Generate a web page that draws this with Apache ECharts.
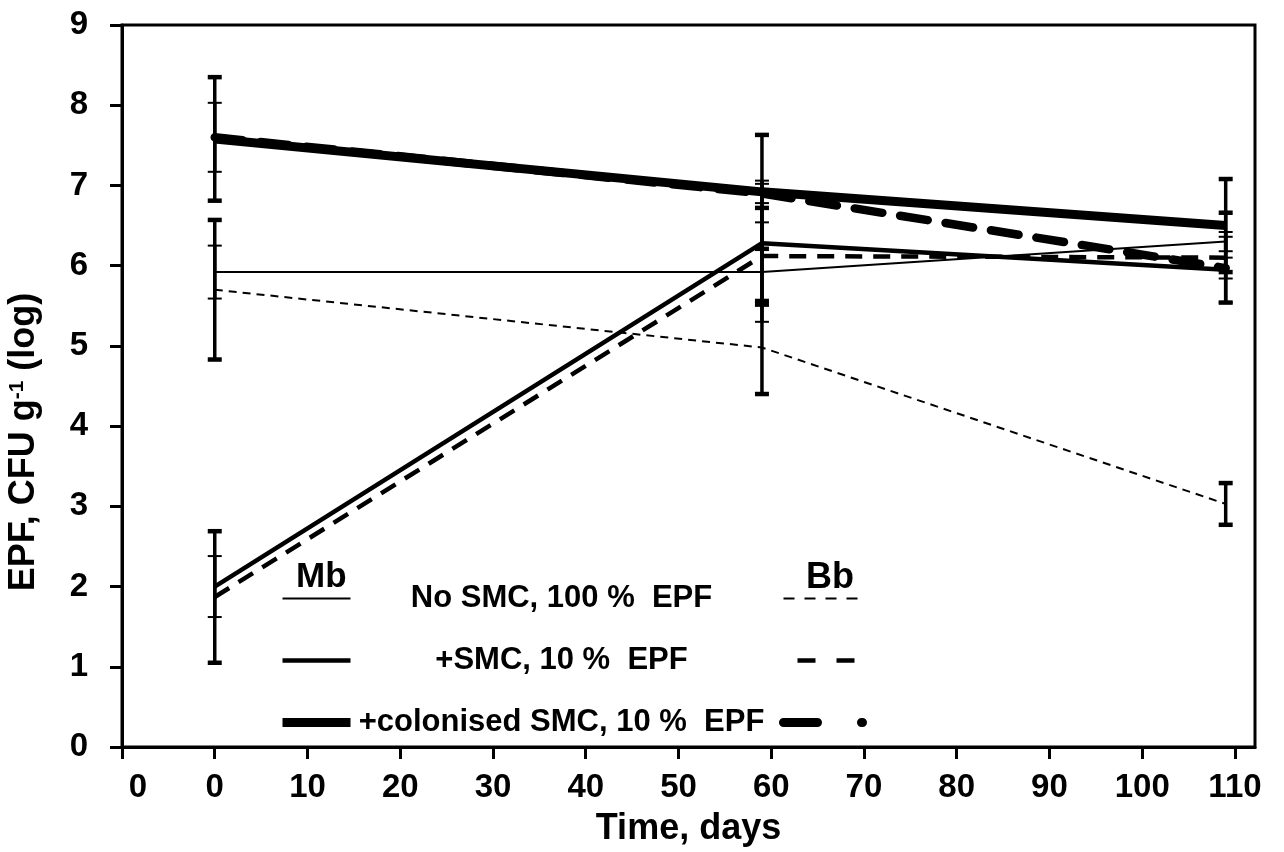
<!DOCTYPE html>
<html>
<head>
<meta charset="utf-8">
<script src="https://cdn.jsdelivr.net/npm/echarts@6/dist/echarts.min.js"></script>
<style>html,body{margin:0;padding:0;background:#fff}#c{width:1284px;height:852px}</style>
</head>
<body>
<div id="c"></div>
<script>
// ---- data ----
const days = [0, 59, 109];
const xTickValues = [-10, 0, 10, 20, 30, 40, 50, 60, 70, 80, 90, 100, 110];
const xTickLabels = ['0', '0', '10', '20', '30', '40', '50', '60', '70', '80', '90', '100', '110'];

const mbNoSmc = [5.92, 5.92, 6.30];
const mbNoSmcErr = [0.33, 0.62, 0.12];
const bbNoSmc = [5.70, 4.98, 3.03];
const bbNoSmcErr = [0.87, 0.58, 0.26];
const mbSmc = [2.00, 6.28, 5.95];
const mbSmcErr = [0.38, 0.78, 0.41];
const bbSmc = [1.87, 6.12, 6.10];
const bbSmcErr = [0.82, 0.60, 0.56];
const mbCol = [7.58, 6.92, 6.50];
const mbColErr = [0.77, 0.71, 0.58];
const bbCol = [7.60, 6.90, 5.97];
const bbColErr = [0.43, 0.12, 0.13];

const conditionLabels = ['No SMC, 100 %  EPF', '+SMC, 10 %  EPF', '+colonised SMC, 10 %  EPF'];

// ---- chart ----
const FONT = "'Liberation Sans', Arial, sans-serif";
const chart = echarts.init(document.getElementById('c'), null, {renderer: 'canvas'});

function pts(vals) { return days.map((d, i) => [d, vals[i]]); }
function errPts(vals, errs) { return days.map((d, i) => [d, vals[i] - errs[i], vals[i] + errs[i]]); }

function errSeries(name, vals, errs, capW) {
  return {
    type: 'custom', name: name + ' err', z: 3,
    data: errPts(vals, errs),
    renderItem: function (params, api) {
      const x = api.value(0);
      const lo = api.coord([x, api.value(1)]);
      const hi = api.coord([x, api.value(2)]);
      const hw = 7;
      return {
        type: 'group',
        children: [
          {type: 'line', shape: {x1: hi[0], y1: hi[1], x2: lo[0], y2: lo[1]}, style: {stroke: '#000', lineWidth: 3.5}},
          {type: 'line', shape: {x1: hi[0] - hw, y1: hi[1], x2: hi[0] + hw, y2: hi[1]}, style: {stroke: '#000', lineWidth: capW}},
          {type: 'line', shape: {x1: lo[0] - hw, y1: lo[1], x2: lo[0] + hw, y2: lo[1]}, style: {stroke: '#000', lineWidth: capW}}
        ]
      };
    }
  };
}

function lineSeries(name, vals, width, type, z, cap) {
  return {
    type: 'line', name: name, data: pts(vals), symbol: 'none', z: z,
    lineStyle: {color: '#000', width: width, type: type, cap: cap || 'butt'},
    itemStyle: {color: '#000'}
  };
}

const labelMap = {
  'Mb No SMC': conditionLabels[0],
  'Mb +SMC': conditionLabels[1],
  'Mb colonised SMC': conditionLabels[2]
};

const option = {
  animation: false,
  backgroundColor: '#fff',
  title: [
    {text: 'Mb', left: 296, top: 560, padding: 0, textStyle: {fontFamily: FONT, fontSize: 35, fontWeight: 'bold', color: '#000'}},
    {text: 'Bb', left: 806, top: 560, padding: 0, textStyle: {fontFamily: FONT, fontSize: 36, fontWeight: 'bold', color: '#000'}}
  ],
  grid: {left: 122, right: 29, top: 25, bottom: 105, show: true, borderColor: '#000', borderWidth: 3, containLabel: false, outerBoundsMode: 'none'},
  legend: [
    {
      data: [
        {name: 'Mb No SMC', lineStyle: {width: 2}},
        {name: 'Mb +SMC', lineStyle: {width: 4.5}},
        {name: 'Mb colonised SMC', lineStyle: {width: 9}}
      ],
      orient: 'vertical', left: 278, top: 583, itemWidth: 68, itemHeight: 14, itemGap: 31,
      selectedMode: false, padding: 0, itemStyle: {opacity: 0},
      formatter: function (n) { return '{c|' + labelMap[n] + '}'; },
      textStyle: {rich: {c: {width: 412, align: 'center', fontFamily: FONT, fontSize: 31, fontWeight: 'bold', color: '#000'}}}
    },
    {
      data: [
        {name: 'Bb No SMC', lineStyle: {width: 2, type: [11, 10], dashOffset: 0}},
        {name: 'Bb +SMC', lineStyle: {width: 4.5, type: [18, 21], dashOffset: 25}},
        {name: 'Bb colonised SMC', lineStyle: {width: 9, type: [34, 44, 1, 100], dashOffset: 0, cap: 'round'}}
      ],
      orient: 'vertical', left: 779, top: 583, itemWidth: 84, itemHeight: 14, itemGap: 31,
      selectedMode: false, padding: 0, itemStyle: {opacity: 0},
      formatter: function () { return '{c| }'; },
      textStyle: {rich: {c: {width: 2, fontFamily: FONT, fontSize: 31, color: '#000'}}}
    }
  ],
  xAxis: {
    type: 'value', min: -10, max: 112.16, interval: 10,
    axisLine: {show: true, onZero: false, lineStyle: {color: '#000', width: 3}},
    axisTick: {show: true, customValues: xTickValues, length: 12, lineStyle: {color: '#000', width: 3}},
    axisLabel: {
      customValues: xTickValues, margin: 24,
      fontFamily: FONT, fontSize: 33, fontWeight: 'bold', color: '#000',
      formatter: function (v) {
        const i = xTickValues.indexOf(v);
        if (i === 0) return '{f|' + xTickLabels[0] + '}';
        return i >= 0 ? xTickLabels[i] : '';
      },
      rich: {f: {fontFamily: FONT, fontSize: 33, fontWeight: 'bold', color: '#000', padding: [0, 0, 0, 32]}}
    },
    splitLine: {show: false},
    name: 'Time, days', nameLocation: 'middle', nameGap: 64,
    nameTextStyle: {fontFamily: FONT, fontSize: 36, fontWeight: 'bold', color: '#000'}
  },
  yAxis: {
    type: 'value', min: 0, max: 9, interval: 1,
    axisLine: {show: true, onZero: false, lineStyle: {color: '#000', width: 3}},
    axisTick: {show: true, length: 12, lineStyle: {color: '#000', width: 3}},
    axisLabel: {margin: 34, fontFamily: FONT, fontSize: 33, fontWeight: 'bold', color: '#000'},
    splitLine: {show: false},
    name: 'EPF, CFU g{sup|-1} (log)', nameLocation: 'middle', nameGap: 80, nameRotate: 90,
    nameTextStyle: {
      fontFamily: FONT, fontSize: 36, fontWeight: 'bold', color: '#000',
      padding: [0, 112, 0, 0],
      rich: {sup: {fontFamily: FONT, fontSize: 21, fontWeight: 'bold', color: '#000', padding: [0, 0, 14, 0]}}
    }
  },
  series: [
    lineSeries('Mb No SMC', mbNoSmc, 2, 'solid', 4),
    lineSeries('Mb +SMC', mbSmc, 4.5, 'solid', 5),
    lineSeries('Mb colonised SMC', mbCol, 9, 'solid', 7),
    lineSeries('Bb No SMC', bbNoSmc, 2, [8, 6], 4),
    lineSeries('Bb +SMC', bbSmc, 4.5, [17, 11], 5),
    lineSeries('Bb colonised SMC', bbCol, 8.5, [28, 18], 6, 'round'),
    errSeries('Mb No SMC', mbNoSmc, mbNoSmcErr, 2),
    errSeries('Mb +SMC', mbSmc, mbSmcErr, 2),
    errSeries('Mb colonised SMC', mbCol, mbColErr, 4.5),
    errSeries('Bb No SMC', bbNoSmc, bbNoSmcErr, 4.5),
    errSeries('Bb +SMC', bbSmc, bbSmcErr, 4.5),
    errSeries('Bb colonised SMC', bbCol, bbColErr, 2)
  ]
};
chart.setOption(option);
</script>
</body>
</html>
